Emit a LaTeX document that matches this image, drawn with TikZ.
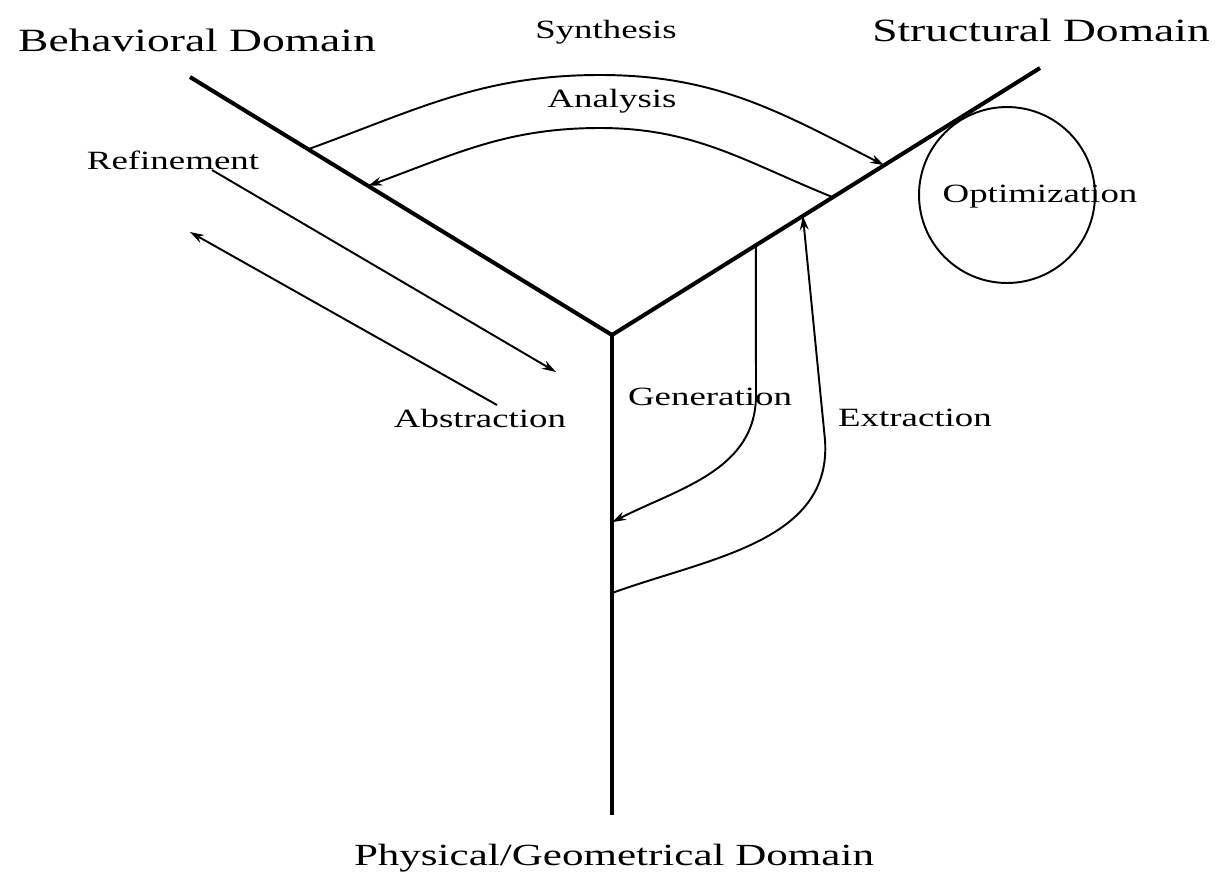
\documentclass[tikz,border=0pt]{standalone}
\usepackage{fontspec}
\newfontfamily\domainfont[FakeStretch=1.4]{Liberation Serif}
\usetikzlibrary{arrows.meta,calc}

\begin{document}
\begin{tikzpicture}[x=0.02cm, y=-0.02cm,
  axis/.style={line width=2.3pt},
  flow/.style={line width=1.1pt, -{Stealth[length=8pt,width=5pt]}},
  domainlabel/.style={font=\domainfont\fontsize{18.5}{22}\selectfont},
  task/.style={font=\domainfont\fontsize{15}{18}\selectfont}
]
  \useasboundingbox (0,0) rectangle (1228,887);

  % the three domain axes
  \coordinate (centre) at (612,335);
  \coordinate (behEnd) at (190,77);
  \coordinate (strEnd) at (1040,68);
  \coordinate (phyEnd) at (612,815);
  \draw[axis] (behEnd) -- (centre) -- (strEnd);
  \draw[axis] (centre) -- (phyEnd);

  \node[domainlabel] (behav) at (197,40)  {Behavioral Domain};
  \node[domainlabel] (struc) at (1041,30) {Structural Domain};
  \node[domainlabel, font=\domainfont\fontsize{17.5}{21}\selectfont] (phys) at (614,858) {Physical/Geometrical Domain};

  % points where the arrows meet the axes
  \coordinate (synFrom) at ($(centre)!0.72!(behEnd)$);
  \coordinate (synTo)   at ($(centre)!0.636!(strEnd)$);
  \coordinate (anaFrom) at ($(centre)!0.516!(strEnd)$);
  \coordinate (anaTo)   at ($(centre)!0.578!(behEnd)$);
  \coordinate (genFrom) at ($(centre)!0.336!(strEnd)$);
  \coordinate (genTo)   at ($(centre)!0.39!(phyEnd)$);
  \coordinate (extFrom) at ($(centre)!0.5375!(phyEnd)$);
  \coordinate (extTo)   at ($(centre)!0.446!(strEnd)$);

  \node[task] (synth) at (606,32)  {Synthesis};
  \node[task] (anal)  at (612,101) {Analysis};
  \draw[flow] (synFrom) to[out=20,in=180] (600,75) to[out=0,in=153] (synTo);
  \draw[flow] (anaFrom) to[out=158,in=0] (600,128) to[out=180,in=20] (anaTo);

  \node[task] (gen) at (710,397) {Generation};
  \node[task] (ext) at (915,418) {Extraction};
  \draw[flow] (genFrom) -- (756,395) to[out=-90,in=27] (genTo);
  \draw[flow] (extFrom) to[out=20,in=-86] (825,440) -- (extTo);

  \node[task] (refine) at (173,160) {Refinement};
  \node[task] (abstr)  at (480,418) {Abstraction};
  \coordinate (refFrom) at (212,170);
  \coordinate (refTo)   at (556,372);
  \coordinate (absFrom) at (497,405);
  \coordinate (absTo)   at (190,232);
  \draw[flow] (refFrom) -- (refTo);
  \draw[flow] (absFrom) -- (absTo);

  \node[draw, circle, line width=1.1pt, minimum size=3.52cm] (optRing) at (1007,195) {};
  \node[task] (optim) at (1040,197) {Optimization};
\end{tikzpicture}
\end{document}
